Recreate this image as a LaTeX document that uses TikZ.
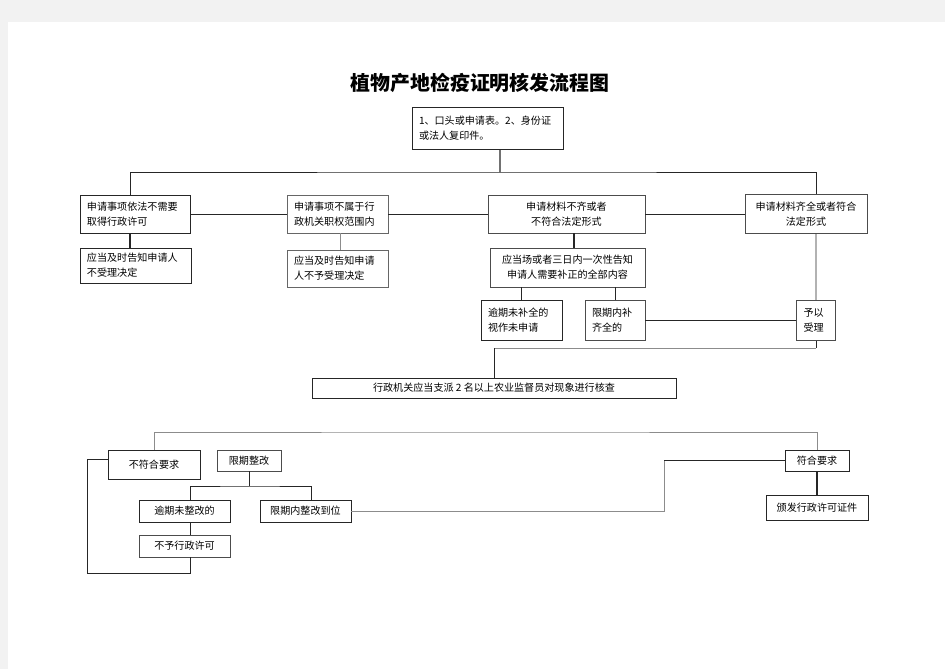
\documentclass[tikz,border=0pt]{standalone}
\usepackage{fontspec}
\setmainfont{Noto Sans CJK SC}
\begin{document}
\begin{tikzpicture}[x=0.03cm,y=-0.03cm,
  box/.style={draw=black!85,line width=.6pt,inner xsep=.21cm,inner ysep=0pt,
    font=\fontsize{8.6}{12.8}\selectfont},
  lbox/.style={box,align=left},
  cbox/.style={box,align=center},
  link/.style={draw=black!85,line width=.65pt},
  glink/.style={draw=black!45,line width=.7pt}]
\useasboundingbox (0,0) rectangle (945,669);
\fill[black!5] (0,0) rectangle (945,669);
\fill[white] (8,22) rectangle (945,669);
\node (title) at (480,83) {\fontsize{17}{20}\selectfont\bfseries 植物产地检疫证明核发流程图};
\node[lbox,text width=4.11cm,minimum height=1.26cm,line width=.8pt] (apply) at (487.5,128) {1、口头或申请表。2、身份证\\或法人复印件。};
\node[lbox,text width=2.88cm,minimum height=1.14cm,line width=.8pt] (noneed) at (135,214) {申请事项依法不需要\\取得行政许可};
\node[lbox,text width=2.61cm,minimum height=1.14cm,draw=black!60] (outside) at (337.5,214) {申请事项不属于行\\政机关职权范围内};
\node[cbox,minimum width=4.71cm,minimum height=1.14cm,draw=black!70] (incomplete) at (566.5,214) {申请材料不齐或者\\不符合法定形式};
\node[cbox,minimum width=3.66cm,minimum height=1.17cm,draw=black!70] (complete) at (806,214) {申请材料齐全或者符合\\法定形式};
\node[lbox,text width=2.91cm,minimum height=1.05cm] (notify) at (135.5,265.5) {应当及时告知申请人\\不受理决定};
\node[lbox,text width=2.61cm,minimum height=1.11cm,draw=black!60] (refuse) at (337.5,268.5) {应当及时告知申请\\人不予受理决定};
\node[cbox,minimum width=4.65cm,minimum height=1.17cm,draw=black!70] (correct) at (567.5,267.5) {应当场或者三日内一次性告知\\申请人需要补正的全部内容};
\node[lbox,text width=2.01cm,minimum height=1.2cm] (overdue) at (521.5,320) {逾期未补全的\\视作未申请};
\node[lbox,text width=1.38cm,minimum height=1.2cm,draw=black!70] (intime) at (615,320.5) {限期内补\\齐全的};
\node[lbox,text width=.75cm,minimum height=1.2cm,draw=black!70] (accept) at (816,320.5) {予以\\受理};
\node[cbox,minimum width=10.92cm,minimum height=.6cm] (inspect) at (494,388) {行政机关应当支派 2 名以上农业监督员对现象进行核查};
\node[cbox,minimum width=2.76cm,minimum height=.87cm] (fail) at (154,464.5) {不符合要求};
\node[cbox,minimum width=1.92cm,minimum height=.63cm,draw=black!70] (rectify) at (249,460.5) {限期整改};
\node[cbox,minimum width=2.73cm,minimum height=.66cm] (late) at (184.5,511) {逾期未整改的};
\node[cbox,minimum width=2.73cm,minimum height=.66cm] (done) at (305.5,511) {限期内整改到位};
\node[cbox,minimum width=2.73cm,minimum height=.66cm,draw=black!70] (deny) at (184.5,546) {不予行政许可};
\node[cbox,minimum width=1.92cm,minimum height=.63cm] (pass) at (817,460.5) {符合要求};
\node[cbox,minimum width=3.06cm,minimum height=.75cm] (issue) at (817,507.5) {颁发行政许可证件};
\coordinate (hub) at (500,172);
\coordinate (bend) at (494,348);
\coordinate (top2) at (485,432);
\coordinate (fork) at (249,486);
\coordinate (loop) at (87,573);
\coordinate (jog) at (664,460.5);
\draw[link,line width=.9pt] ([xshift=.375cm]apply.south) -- (hub);
\draw[link] ([xshift=-.15cm]noneed.north) |- (hub) -| ([xshift=.3cm]complete.north);
\draw[link] (noneed.east) -- (outside.west);
\draw[link] (outside.east) -- (incomplete.west);
\draw[link] (incomplete.east) -- (complete.west);
\draw[link,line width=.9pt] ([xshift=-.15cm]noneed.south) -- ([xshift=-.15cm]noneed.south |- notify.north);
\draw[glink] ([xshift=.1cm]outside.south) -- ([xshift=.1cm]outside.south |- refuse.north);
\draw[link,line width=.9pt] ([xshift=.225cm]incomplete.south) -- ([xshift=.225cm]incomplete.south |- correct.north);
\draw[link] (overdue.north) -- (overdue.north |- correct.south);
\draw[link] (intime.north) -- (intime.north |- correct.south);
\draw[link] ([xshift=.3cm]complete.south) -- (accept.north);
\draw[link,line width=1pt] (intime.east) -- (accept.west);
\draw[link] (accept.south) -- (accept.south |- bend);
\draw[glink] (accept.south |- bend) -- (bend);
\draw[link] (bend) -- (inspect.north);
\draw[glink] (fail.north) |- (top2) -| (pass.north);
\draw[link] (rectify.south) -- (fork);
\draw[link] ([xshift=.165cm]late.north) |- (fork) -| ([xshift=.165cm]done.north);
\draw[link] ([xshift=.165cm]late.south) -- ([xshift=.165cm]deny.north);
\draw[link] ([xshift=.165cm]deny.south) |- (loop) |- ([yshift=.165cm]fail.west);
\draw[glink] (done.east) -| (jog);
\draw[link] (jog) -- (pass.west);
\draw[link,line width=.9pt] (pass.south) -- (issue.north);
\end{tikzpicture}
\end{document}
